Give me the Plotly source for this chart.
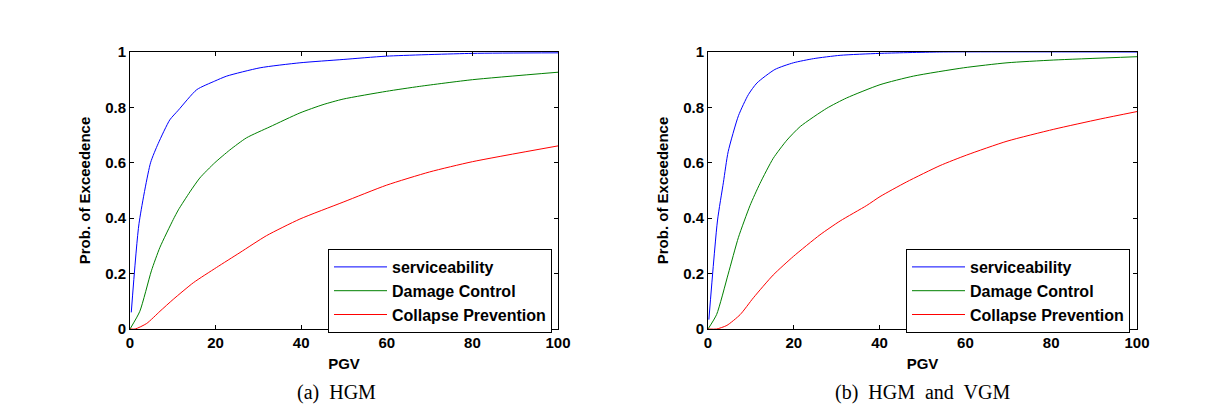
import plotly.graph_objects as go

# ---------- data ----------
# (a) HGM
a_serv_x = [0.3, 2.1, 4.8, 6.6, 9.3, 11.3, 15.6, 19.8, 22.6, 30.4, 39.7, 49.8, 59.9, 80, 100]
a_serv_y = [0.06, 0.38, 0.60, 0.67, 0.755, 0.79, 0.864, 0.895, 0.913, 0.943, 0.961, 0.973, 0.985, 0.995, 0.997]
a_dc_x = [0, 2.3, 5, 7, 10.1, 11.3, 14, 16.3, 19.8, 23.3, 27.2, 32.7, 39.7, 45.1, 49.8, 59.9, 67.7, 80, 100]
a_dc_y = [0, 0.064, 0.21, 0.295, 0.395, 0.43, 0.495, 0.545, 0.60, 0.646, 0.69, 0.73, 0.78, 0.81, 0.83, 0.858, 0.876, 0.90, 0.927]
a_cp_x = [0, 1.2, 3.9, 7, 10.1, 14.8, 20.2, 25.7, 31.9, 39.7, 49.8, 59.9, 70, 80, 100]
a_cp_y = [0, 0, 0.02, 0.064, 0.107, 0.167, 0.222, 0.276, 0.337, 0.397, 0.458, 0.519, 0.567, 0.604, 0.661]

# (b) HGM and VGM
b_serv_x = [0.2, 2.2, 3.6, 4.7, 7.1, 9.4, 11.4, 15.6, 19.9, 24.6, 30.8, 40, 54, 100]
b_serv_y = [0.034, 0.39, 0.53, 0.64, 0.77, 0.846, 0.888, 0.937, 0.961, 0.976, 0.988, 0.995, 1.0, 1.0]
b_dc_x = [0, 2, 4.7, 7.1, 9.8, 12.1, 15.2, 18.4, 21.5, 27.7, 32.3, 40.1, 47.9, 59.6, 69.7, 80.6, 100]
b_dc_y = [0, 0.052, 0.198, 0.331, 0.446, 0.525, 0.616, 0.682, 0.731, 0.797, 0.834, 0.882, 0.913, 0.943, 0.961, 0.971, 0.983]
b_cp_x = [0, 2, 4.4, 7.5, 10.6, 15.2, 19.9, 26.1, 30.8, 37, 40.1, 46.3, 54.1, 60.3, 69.7, 80.6, 91.4, 100]
b_cp_y = [0, 0, 0.013, 0.052, 0.113, 0.195, 0.262, 0.34, 0.39, 0.446, 0.478, 0.531, 0.59, 0.628, 0.678, 0.721, 0.758, 0.785]

series_names = ["serviceability", "Damage Control", "Collapse Prevention"]
series_colors = ["#0000ff", "#008000", "#ff0000"]
x_ticks = [0, 20, 40, 60, 80, 100]
y_ticks = [0, 0.2, 0.4, 0.6, 0.8, 1]
y_ticktext = ["0", "0.2", "0.4", "0.6", "0.8", "1"]
captions = ["(a)  HGM", "(b)  HGM  and  VGM"]

W, H = 1229, 408
ML, MR, MT, MB = 130, 92, 52, 79
PW, PH = W - ML - MR, H - MT - MB

def px_x(p):
    return (p - ML) / PW

def px_y(p):
    return (H - MB - p) / PH

fig = go.Figure()

panels = [
    ([(a_serv_x, a_serv_y), (a_dc_x, a_dc_y), (a_cp_x, a_cp_y)], "x", "y", "legend"),
    ([(b_serv_x, b_serv_y), (b_dc_x, b_dc_y), (b_cp_x, b_cp_y)], "x2", "y2", "legend2"),
]
for data, xa, ya, lg in panels:
    for (xs, ys), name, col in zip(data, series_names, series_colors):
        fig.add_trace(go.Scatter(x=xs, y=ys, mode="lines", name=name,
                                 line=dict(color=col, width=1, shape="spline", smoothing=0.6),
                                 xaxis=xa, yaxis=ya, legend=lg, cliponaxis=True))

bold = dict(family="Liberation Sans, Arial", size=15, color="black", weight="bold")
legfont = dict(family="Liberation Sans, Arial", size=16, color="black", weight="bold")

axis_common = dict(showline=True, linecolor="black", linewidth=1, mirror="ticks",
                   ticks="inside", ticklen=4, tickcolor="black", showgrid=False,
                   zeroline=False, tickfont=bold, automargin=False)

ydom = [0, 1]
fig.update_layout(
    width=W, height=H, margin=dict(l=ML, r=MR, t=MT, b=MB, autoexpand=False),
    paper_bgcolor="white", plot_bgcolor="white",
    xaxis=dict(domain=[0, px_x(558)], range=[0, 100], tickvals=x_ticks,
               title=dict(text="PGV", font=bold, standoff=8), anchor="y", **axis_common),
    yaxis=dict(domain=ydom, range=[0, 1], tickvals=y_ticks, ticktext=y_ticktext,
               title=dict(text="Prob. of Exceedence", font=bold, standoff=10), anchor="x", **axis_common),
    xaxis2=dict(domain=[px_x(708), 1], range=[0, 100], tickvals=x_ticks,
                title=dict(text="PGV", font=bold, standoff=8), anchor="y2", **axis_common),
    yaxis2=dict(domain=ydom, range=[0, 1], tickvals=y_ticks, ticktext=y_ticktext,
                title=dict(text="Prob. of Exceedence", font=bold, standoff=10), anchor="x2", **axis_common),
    legend=dict(x=px_x(328), y=px_y(249), xanchor="left", yanchor="top",
                bordercolor="black", borderwidth=1, bgcolor="white",
                font=legfont, itemwidth=53, tracegroupgap=0),
    legend2=dict(x=px_x(906), y=px_y(249), xanchor="left", yanchor="top",
                 bordercolor="black", borderwidth=1, bgcolor="white",
                 font=legfont, itemwidth=53, tracegroupgap=0),
    showlegend=True,
)

for cap, cx in zip(captions, [336, 922]):
    fig.add_annotation(text=cap, x=px_x(cx), y=px_y(392), xref="paper", yref="paper",
                       showarrow=False, xanchor="center", yanchor="middle",
                       font=dict(family="Liberation Serif, DejaVu Serif", size=20, color="black"))

fig.write_html("out.html", config={"displayModeBar": False},
               post_script="document.body.style.margin='0';document.body.style.overflow='hidden';")
